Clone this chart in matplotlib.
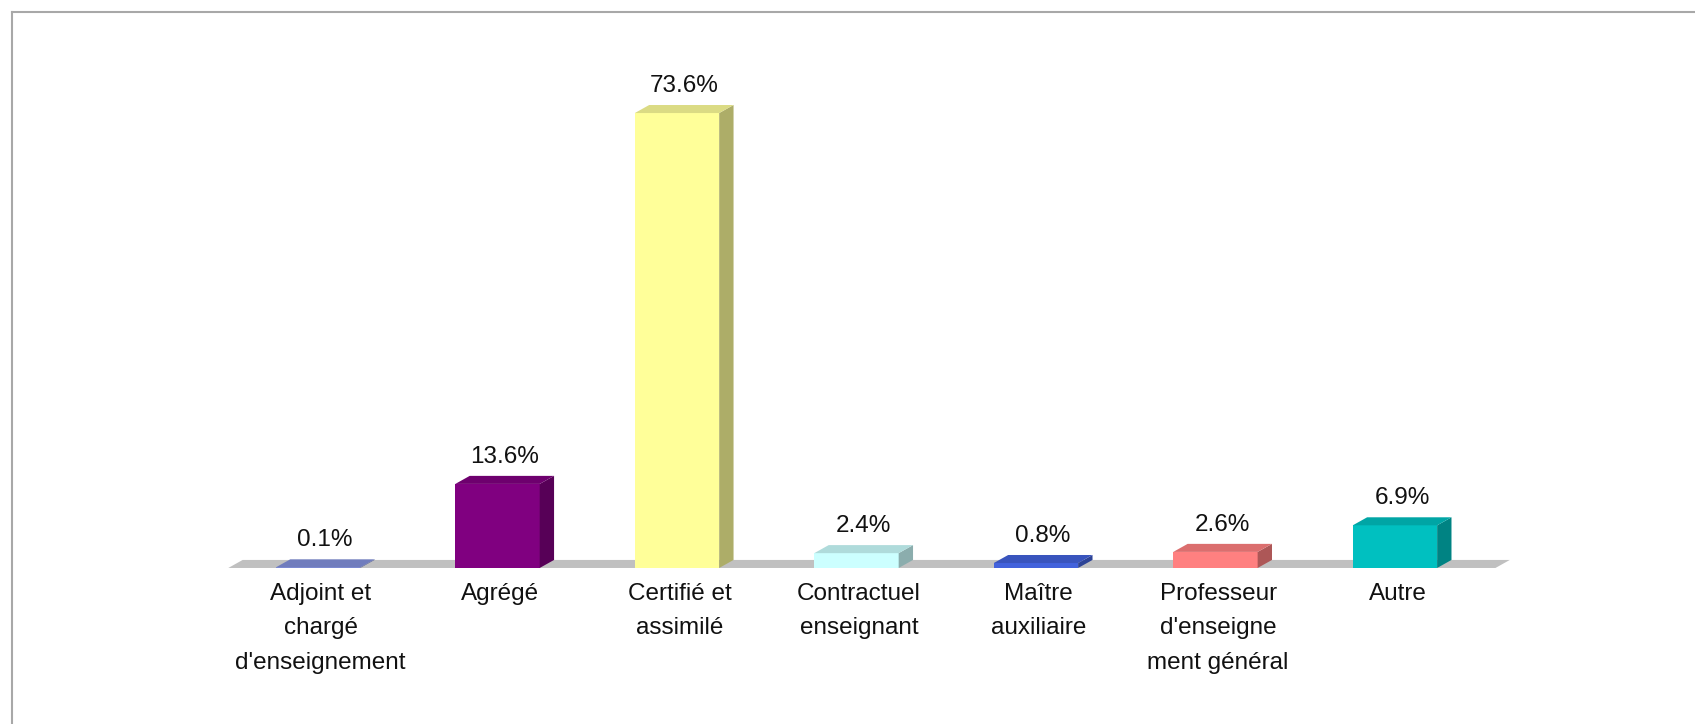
import matplotlib.pyplot as plt
import numpy as np
from matplotlib.patches import Polygon
from matplotlib.colors import to_rgb
from matplotlib.lines import Line2D

plt.rcParams['font.family'] = ['Liberation Sans', 'DejaVu Sans']

# Data
categories = ['Adjoint et\nchargé\nd\'enseignement', 'Agrégé', 'Certifié et\nassimilé',
              'Contractuel\nenseignant', 'Maître\nauxiliaire',
              'Professeur\nd\'enseigne\nment général', 'Autre']
values = [0.1, 13.6, 73.6, 2.4, 0.8, 2.6, 6.9]
value_labels = ['0.1%', '13.6%', '73.6%', '2.4%', '0.8%', '2.6%', '6.9%']
colors = ['#8290DC', '#800080', '#FFFF99', '#CCFFFF', '#4262DC', '#FF8080', '#00C0C0']


def shade(c, f):
    r, g, b = to_rgb(c)
    return (r * f, g * f, b * f)


fig = plt.figure(figsize=(16.95, 7.24), dpi=100)
ax = fig.add_axes([0.1241, 0.2155, 0.7730, 0.683])
ax.set_xlim(-0.6, 6.7)
ax.set_ylim(0, 80)
ax.axis('off')

x = np.arange(len(categories))
w = 0.47     # bar width
dx = 0.08    # depth offset (x)
dy = 1.3     # depth offset (y)

# floor
floor = Polygon([(-0.5, 0), (6.56, 0), (6.56 + dx, dy), (-0.5 + dx, dy)],
                closed=True, facecolor='#C0C0C0', edgecolor='none', zorder=1)
ax.add_patch(floor)

# bars: front face through ax.bar, side and top faces as polygons
ax.bar(x, values, width=w, color=colors, edgecolor='none', zorder=3)
for xi, v, c in zip(x, values, colors):
    right = xi + w / 2
    left = xi - w / 2
    side = Polygon([(right, 0), (right + dx, dy), (right + dx, v + dy), (right, v)],
                   closed=True, facecolor=shade(c, 0.68), edgecolor='none', zorder=3)
    top = Polygon([(left, v), (right, v), (right + dx, v + dy), (left + dx, v + dy)],
                  closed=True, facecolor=shade(c, 0.86), edgecolor='none', zorder=3)
    ax.add_patch(side)
    ax.add_patch(top)

for xi, v, lab in zip(x, values, value_labels):
    ax.annotate(lab, (xi + dx / 2, v + dy), xytext=(0, 6), textcoords='offset points',
                ha='center', va='bottom', fontsize=17.5, color='#111111')

for xi, lab in zip(x, categories):
    ax.annotate(lab, (xi + 0.015, 0), xytext=(0, -11), textcoords='offset points',
                ha='center', va='top', fontsize=17.5, color='#111111', linespacing=1.72)

# chart frame (top and left edges)
fig.add_artist(Line2D([12 / 1695, 1], [1 - 12 / 724, 1 - 12 / 724],
                      transform=fig.transFigure, color='#A8A8A8', lw=1.5))
fig.add_artist(Line2D([12 / 1695, 12 / 1695], [0, 1 - 12 / 724],
                      transform=fig.transFigure, color='#A8A8A8', lw=1.5))

fig.savefig('out.png', dpi=100)
